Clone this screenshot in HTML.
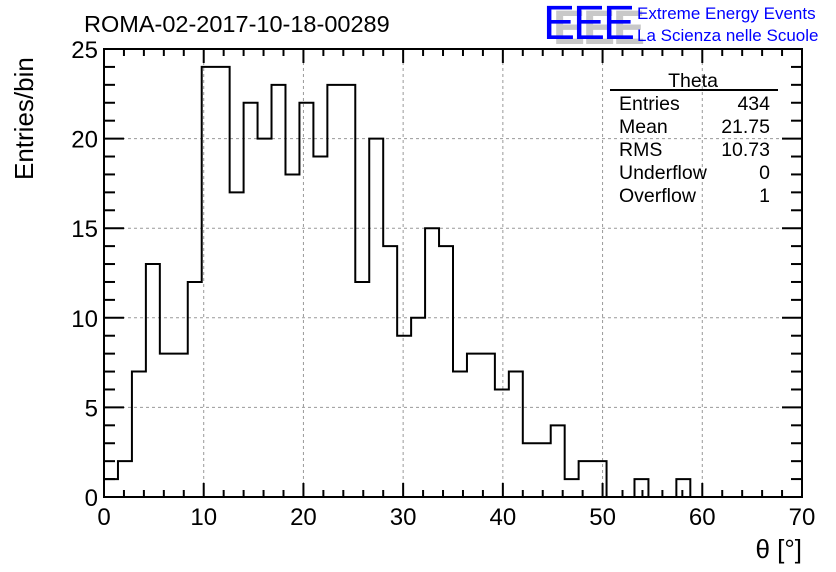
<!DOCTYPE html>
<html><head><meta charset="utf-8"><style>
body{margin:0;background:#fff;}
svg{display:block;font-family:"Liberation Sans",sans-serif;}
</style></head><body>
<svg id="c" width="836" height="572" viewBox="0 0 836 572">
<text x="84" y="32" font-size="23.5">ROMA-02-2017-10-18-00289</text>
<g>
<text x="553" y="44" font-size="48" fill="#c8c8c8" font-weight="bold" letter-spacing="-2">EEE</text>
<text x="543" y="39" font-size="48" fill="#0000ff" letter-spacing="-2">EEE</text>
<text x="637" y="19" font-size="17" fill="#0000ff">Extreme Energy Events</text>
<text x="637" y="41" font-size="17" fill="#0000ff">La Scienza nelle Scuole</text>
</g>
<g id="grid"></g>
<g id="hist"></g>
<g id="axes"></g>
<g font-size="19.5">
<text x="693" y="87" text-anchor="middle">Theta</text>
<line x1="610" y1="90" x2="778" y2="90" stroke="#000" stroke-width="2"/>
<text x="619" y="110">Entries</text><text x="770" y="110" text-anchor="end">434</text>
<text x="619" y="133">Mean</text><text x="770" y="133" text-anchor="end">21.75</text>
<text x="619" y="156">RMS</text><text x="770" y="156" text-anchor="end">10.73</text>
<text x="619" y="179">Underflow</text><text x="770" y="179" text-anchor="end">0</text>
<text x="619" y="202">Overflow</text><text x="770" y="202" text-anchor="end">1</text>
</g>
<text x="33" y="180" font-size="26" transform="rotate(-90 33 180)">Entries/bin</text>
<text x="802" y="558" font-size="26" text-anchor="end">θ [°]</text>
</svg>
<script>
const counts=[1,2,7,13,8,8,12,24,24,17,22,20,23,18,22,19,23,23,12,20,14,9,10,15,14,7,8,8,6,7,3,3,4,1,2,2,0,0,1,0,0,1,0,0,0,0,0,0,0,0];
const xTicks=[0,10,20,30,40,50,60,70];
const yTicks=[0,5,10,15,20,25];
const binWidth=1.4;
const X0=104,X1=802,Y0=497,Y1=49;
const xs=v=>X0+(v-0)/70*(X1-X0);
const ys=v=>Y0-(v-0)/25*(Y0-Y1);
const NS="http://www.w3.org/2000/svg";
function mk(t,a,p){const e=document.createElementNS(NS,t);for(const k in a)e.setAttribute(k,a[k]);p.appendChild(e);return e;}
const grid=document.getElementById('grid'),hist=document.getElementById('hist'),axes=document.getElementById('axes');
xTicks.forEach(v=>{if(v>0&&v<70){const g=mk('line',{x1:xs(v),x2:xs(v),y1:Y0,y2:Y1,stroke:'#999','stroke-dasharray':'3,3','stroke-width':1},grid);}});
yTicks.forEach(v=>{if(v>0&&v<25){const g=mk('line',{x1:X0,x2:X1,y1:ys(v),y2:ys(v),stroke:'#999','stroke-dasharray':'3,3','stroke-width':1},grid);}});
let d='M'+xs(0)+','+Y0;
counts.forEach((c,i)=>{const a=xs(i*binWidth),b=xs((i+1)*binWidth);d+=' L'+a+','+ys(c)+' L'+b+','+ys(c);});
d+=' L'+xs(70)+','+Y0;
const p=mk('path',{d:d,fill:'none',stroke:'#000','stroke-width':2},hist);


mk('rect',{x:X0,y:Y1,width:X1-X0,height:Y0-Y1,fill:'none',stroke:'#000','stroke-width':2},axes);
for(let v=0;v<=70;v+=2){const L=(v%10===0)?14:7;
mk('line',{x1:xs(v),x2:xs(v),y1:Y0,y2:Y0-L,stroke:'#000','stroke-width':2},axes);
mk('line',{x1:xs(v),x2:xs(v),y1:Y1,y2:Y1+L,stroke:'#000','stroke-width':2},axes);}
for(let v=0;v<=25;v+=1){const L=(v%5===0)?20:11;
mk('line',{x1:X0,x2:X0+L,y1:ys(v),y2:ys(v),stroke:'#000','stroke-width':2},axes);
mk('line',{x1:X1,x2:X1-L,y1:ys(v),y2:ys(v),stroke:'#000','stroke-width':2},axes);}
xTicks.forEach(v=>{const t=mk('text',{x:xs(v),y:Y0+28,'font-size':24,'text-anchor':'middle'},axes);t.textContent=v;});
yTicks.forEach(v=>{const t=mk('text',{x:X0-6,y:ys(v)+9,'font-size':24,'text-anchor':'end'},axes);t.textContent=v;});
</script>
</body></html>
